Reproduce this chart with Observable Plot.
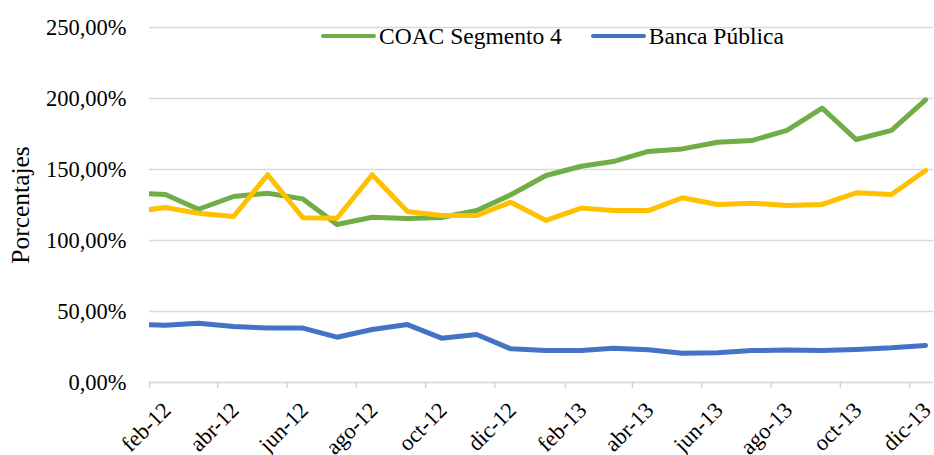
<!DOCTYPE html>
<html>
<head>
<meta charset="utf-8">
<script src="https://cdn.jsdelivr.net/npm/d3@7"></script>
<script src="https://cdn.jsdelivr.net/npm/@observablehq/plot@0.6"></script>
<style>
  html, body { margin: 0; padding: 0; background: #ffffff; }
  #wrap { position: relative; width: 934px; height: 455px; font-family: "Liberation Serif", "Times New Roman", serif; }
  #legend { position: absolute; top: 23px; left: 321px; display: flex; align-items: center; font-family: "Liberation Serif", "Times New Roman", serif; font-size: 23.5px; line-height: 26px; color: #000; white-space: nowrap; }
  .item { display: flex; align-items: center; }
  .item + .item { margin-left: 29px; }
  .sw { display: inline-block; width: 55px; height: 4px; border-radius: 2px; margin-right: 3px; }
  svg text { font-family: "Liberation Serif", "Times New Roman", serif; }
</style>
</head>
<body>
<div id="wrap"></div>
<script>
// ---- Data ----
const months = ["ene-12","feb-12","mar-12","abr-12","may-12","jun-12","jul-12","ago-12","sep-12","oct-12","nov-12","dic-12",
                "ene-13","feb-13","mar-13","abr-13","may-13","jun-13","jul-13","ago-13","sep-13","oct-13","nov-13","dic-13"];
const coacSegmento4 = [133.5,132.4,122.0,131.0,133.3,129.3,111.3,116.4,115.5,116.2,121.1,132.2,
                       145.8,152.3,155.6,162.7,164.5,169.2,170.4,177.5,193.2,171.1,177.5,199.1];
const bancaPublica  = [40.8,40.4,41.8,39.4,38.3,38.3,31.9,37.3,40.8,31.2,33.8,23.7,
                       22.5,22.5,24.2,23.0,20.6,20.9,22.5,22.8,22.5,23.2,24.4,26.1];
const tercerSerie   = [120.1,123.2,119.2,116.9,146.3,116.0,115.7,146.3,120.4,117.6,117.6,127.0,
                       114.1,122.8,121.1,121.1,130.1,125.4,126.3,124.6,125.4,133.6,132.4,149.3];
const seriesNames = ["COAC Segmento 4", "Banca Pública", ""];
const seriesColors = ["#70AD47", "#4472C4", "#FFC000"];
const xTickLabels = ["feb-12","abr-12","jun-12","ago-12","oct-12","dic-12","feb-13","abr-13","jun-13","ago-13","oct-13","dic-13"];
const yTicks = [0, 50, 100, 150, 200, 250];
const yTitle = "Porcentajes";

// ---- Helpers ----
const mesIdx = {ene:0,feb:1,mar:2,abr:3,may:4,jun:5,jul:6,ago:7,sep:8,oct:9,nov:10,dic:11};
const parseMes = (s, day) => { const [m, y] = s.split("-"); return new Date(Date.UTC(2000 + +y, mesIdx[m], day)); };

const rows = [];
[coacSegmento4, bancaPublica, tercerSerie].forEach((arr, k) => {
  arr.forEach((v, i) => rows.push({serie: k, date: parseMes(months[i], 15), value: v}));
});
const tickDates = xTickLabels.map(s => parseMes(s, 1));
const fmtPct = d => d.toFixed(2).replace(".", ",") + "%";

const font = "'Liberation Serif', 'Times New Roman', serif";

const chart = Plot.plot({
  width: 934,
  height: 455,
  marginLeft: 149,
  marginRight: 1,
  marginTop: 27,
  marginBottom: 73,
  style: {fontFamily: font, color: "#000", background: "#fff", overflow: "visible"},
  x: {type: "utc", domain: [new Date(Date.UTC(2012, 1, 1)), new Date(Date.UTC(2013, 11, 22))]},
  y: {domain: [0, 250]},
  marks: [
    Plot.gridY(yTicks, {stroke: "#d9d9d9", strokeOpacity: 1, strokeWidth: 1.3}),
    Plot.ruleY([0], {stroke: "#d9d9d9", strokeWidth: 1.3}),
    Plot.axisY(yTicks, {tickSize: 0, tickPadding: 23, tickFormat: fmtPct, fontSize: 22.5, fill: "#000", label: null}),
    Plot.text([yTitle], {frameAnchor: "left", textAnchor: "middle", lineAnchor: "middle", rotate: -90, dx: -128.5, fontSize: 25.5, fill: "#000"}),
    // tick marks
    Plot.axisX(tickDates, {tickSize: 6, stroke: "#d0d0d0", strokeWidth: 1.3, tickFormat: () => "", label: null}),
    // rotated tick labels
    Plot.axisX(tickDates, {
      tickSize: 0,
      tickFormat: (d, i) => xTickLabels[i],
      tickRotate: -45, textAnchor: "end", lineAnchor: "middle",
      tickPadding: 24, dx: 17.5, fontSize: 22.5, fill: "#000", label: null
    }),
    ...[1, 0, 2].map(k => Plot.line(rows.filter(r => r.serie === k), {
      x: "date", y: "value", stroke: seriesColors[k], strokeWidth: 5,
      strokeLinecap: "round", strokeLinejoin: "round", clip: true
    }))
  ]
});

const wrap = document.getElementById("wrap");
wrap.appendChild(chart);

// Legend (only the two named series, as in the reference)
const legend = document.createElement("div");
legend.id = "legend";
[0, 1].forEach(k => {
  const it = document.createElement("div");
  it.className = "item";
  const sw = document.createElement("span");
  sw.className = "sw";
  sw.style.background = seriesColors[k];
  const tx = document.createElement("span");
  tx.textContent = seriesNames[k];
  it.appendChild(sw); it.appendChild(tx);
  legend.appendChild(it);
});
wrap.appendChild(legend);
</script>
</body>
</html>
